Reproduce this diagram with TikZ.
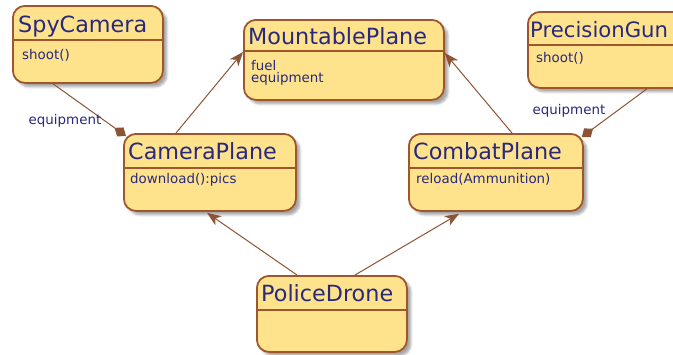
\documentclass[tikz,border=0pt]{standalone}
\usepackage{fontspec}
\setmainfont{DejaVu Sans}
\usetikzlibrary{arrows.meta,shadows.blur}
\definecolor{boxfill}{HTML}{FEE38C}
\definecolor{boxdraw}{HTML}{A0562C}
\definecolor{txt}{HTML}{28287E}
\definecolor{edge}{HTML}{8C5434}
\begin{document}
\begin{tikzpicture}[x=1pt,y=-1pt,
 classbox/.style={draw=boxdraw, line width=1.8pt, fill=boxfill, rounded corners=12pt, anchor=north west, inner sep=0pt,
   blur shadow={shadow xshift=4pt, shadow yshift=-4pt, shadow blur steps=6, shadow opacity=35}},
 divider/.style={draw=boxdraw, line width=1.8pt},
 title/.style={anchor=base west, text=txt, font=\fontsize{22.3}{24}\selectfont, inner sep=0pt},
 body/.style={anchor=base west, text=txt, font=\fontsize{13.4}{12}\selectfont, inner sep=0pt},
 conn/.style={draw=edge, line width=1pt},
 gen/.style={conn, -{Stealth[length=14pt,width=11pt,inset=4pt]}},
 comp/.style={conn, -{Diamond[length=14pt,width=11pt]}},
 lbl/.style={text=txt, font=\fontsize{13.4}{14}\selectfont, inner sep=0pt}
]
\useasboundingbox (0,0) rectangle (673,354);
\clip (0,0) rectangle (673,354);

% boxes
\node[classbox, minimum width=150pt, minimum height=77pt] (spy) at (12,5) {};
\node[classbox, minimum width=200pt, minimum height=80pt] (mount) at (243,19) {};
\node[classbox, minimum width=160pt, minimum height=76pt] (gun) at (527,11) {};
\node[classbox, minimum width=172pt, minimum height=77pt] (camera) at (123,133) {};
\node[classbox, minimum width=174pt, minimum height=77pt] (combat) at (408,133) {};
\node[classbox, minimum width=150pt, minimum height=76pt] (police) at (256,275) {};

% dividers
\draw[divider] ([yshift=-35pt]spy.north west) -- ([yshift=-35pt]spy.north east);
\draw[divider] ([yshift=-32pt]mount.north west) -- ([yshift=-32pt]mount.north east);
\draw[divider] ([yshift=-34pt]gun.north west) -- ([yshift=-34pt]gun.north east);
\draw[divider] ([yshift=-35pt]camera.north west) -- ([yshift=-35pt]camera.north east);
\draw[divider] ([yshift=-35pt]combat.north west) -- ([yshift=-35pt]combat.north east);
\draw[divider] ([yshift=-35pt]police.north west) -- ([yshift=-35pt]police.north east);

% titles
\node[title] (spyT) at ([xshift=6pt, yshift=-27pt]spy.north west) {SpyCamera};
\node[title] (mountT) at ([xshift=5pt, yshift=-25pt]mount.north west) {MountablePlane};
\node[title, font=\fontsize{21.2}{24}\selectfont] (gunT) at ([xshift=3pt, yshift=-26pt]gun.north west) {PrecisionGun};
\node[title] (cameraT) at ([xshift=5pt, yshift=-26pt]camera.north west) {CameraPlane};
\node[title] (combatT) at ([xshift=5pt, yshift=-26pt]combat.north west) {CombatPlane};
\node[title] (policeT) at ([xshift=5pt, yshift=-26pt]police.north west) {PoliceDrone};

% bodies
\node[body] (spyB) at ([xshift=10pt, yshift=-54pt]spy.north west) {shoot()};
\node[body] (mountB1) at ([xshift=8pt, yshift=-51pt]mount.north west) {fuel};
\node[body] (mountB2) at ([xshift=8pt, yshift=-63pt]mount.north west) {equipment};
\node[body] (gunB) at ([xshift=9pt, yshift=-51pt]gun.north west) {shoot()};
\node[body] (cameraB) at ([xshift=7pt, yshift=-50pt]camera.north west) {download():pics};
\node[body] (combatB) at ([xshift=8pt, yshift=-50pt]combat.north west) {reload(Ammunition)};

% connectors
\draw[comp] ([xshift=41pt]spy.south west) -- ([xshift=3pt, yshift=-3pt]camera.north west);
\draw[comp] ([xshift=120pt]gun.south west) -- ([xshift=-2pt, yshift=-4pt]combat.north east);
\draw[gen] ([xshift=53pt]camera.north west) -- ([yshift=-33pt]mount.north west);
\draw[gen] ([xshift=104pt]combat.north west) -- ([yshift=-34pt]mount.north east);
\draw[gen] ([xshift=41pt]police.north west) -- ([xshift=84pt, yshift=-1pt]camera.south west);
\draw[gen] ([xshift=99pt]police.north west) -- ([xshift=51pt, yshift=-2pt]combat.south west);

% labels
\node[lbl] (lblL) at (65,121) {equipment};
\node[lbl] (lblR) at (569,111) {equipment};
\end{tikzpicture}
\end{document}
